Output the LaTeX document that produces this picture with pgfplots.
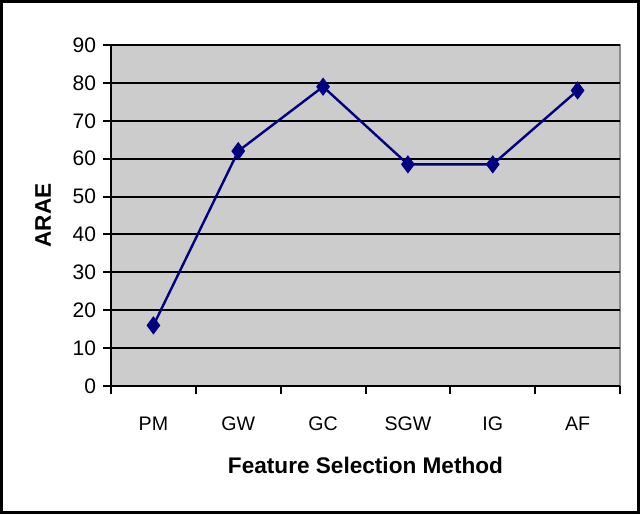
\documentclass[border=0pt]{standalone}
\usepackage{fontspec}
\setmainfont{Liberation Sans}
\usepackage{pgfplots}
\pgfplotsset{compat=1.18}
\definecolor{plotgray}{HTML}{CCCCCC}
\definecolor{framegray}{HTML}{8C8C8C}
\definecolor{navy}{HTML}{000080}
\begin{document}
\begin{tikzpicture}
\begin{axis}[
  name=ax,
  width=254.5pt, height=170.5pt, scale only axis,
  xmin=-0.5, xmax=5.5, ymin=0, ymax=90,
  ytick={0,10,...,90},
  xtick={0,1,2,3,4,5},
  xticklabels={PM,GW,GC,SGW,IG,AF},
  minor xtick={-0.5,0.5,...,5.5},
  axis x line*=bottom, axis y line*=left,
  axis line style={black, line width=1pt, -},
  axis background/.style={fill=plotgray, draw=framegray, line width=0.8pt},
  ymajorgrids, grid style={black, line width=1pt},
  tick align=outside,
  major tick length=4pt, minor tick length=4pt,
  tick style={black, line width=1pt},
  x tick style={draw=none},
  minor x tick style={draw=black, line width=1pt},
  /pgf/number format/assume math mode=true,
  xticklabel style={font=\fontsize{9.8}{11}\selectfont, yshift=-8pt},
  yticklabel style={font=\fontsize{10.5}{12}\selectfont},
  label style={font=\bfseries\fontsize{11.3}{13}\selectfont},
  xlabel={Feature Selection Method},
  ylabel={ARAE},
  xlabel style={at={(axis description cs:0.5,0)}, anchor=center, yshift=-39.5pt},
  ylabel style={at={(axis description cs:0,0.5)}, anchor=center, yshift=34pt},
  clip=false,
]
\addplot[navy, line width=1.2pt, mark=diamond*, mark size=3.6pt, mark options={fill=navy, draw=navy}] coordinates {
  (0,16) (1,62) (2,79) (3,58.5) (4,58.5) (5,78)
};
\end{axis}
\draw[black, line width=1.5pt] ([shift={(-54.75pt,-63.25pt)}]ax.south west) rectangle ([shift={(263.75pt,192.25pt)}]ax.south west);
\end{tikzpicture}
\end{document}
